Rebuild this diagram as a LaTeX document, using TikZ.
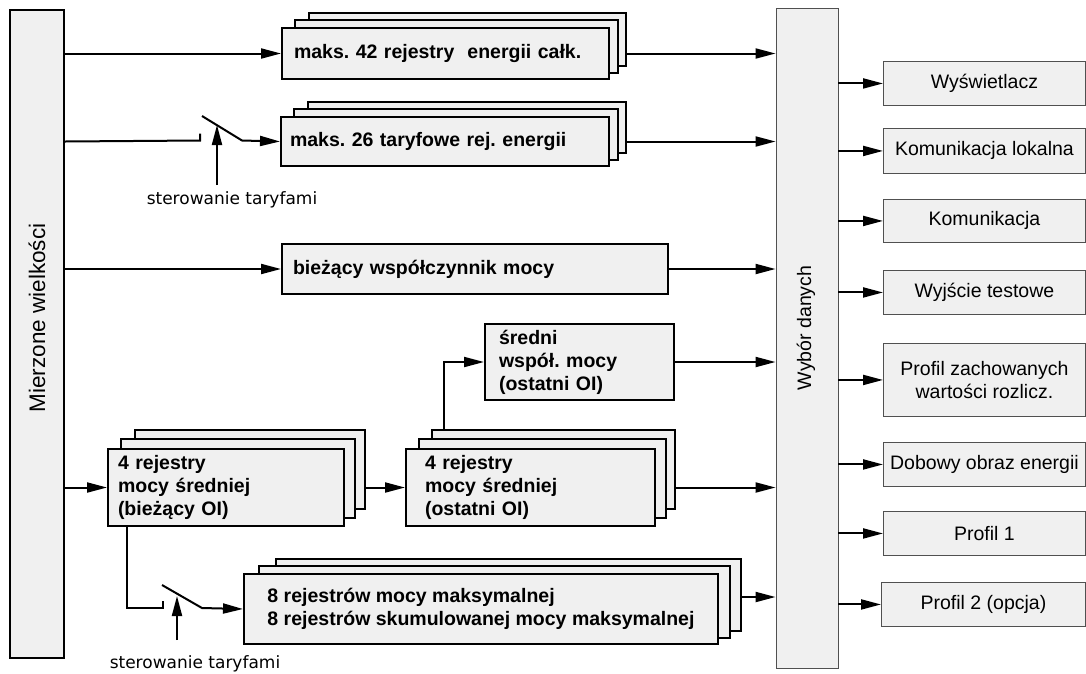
\documentclass[tikz,border=0pt]{standalone}
\usepackage{fontspec}
\setmainfont{Liberation Sans}
\newfontfamily\ctlfont{DejaVu Sans}
\usepackage{tikz}
\usetikzlibrary{arrows.meta,positioning,calc,backgrounds}
\definecolor{boxcolor}{RGB}{240,240,240}
\definecolor{edgecolor}{RGB}{80,80,80}
\frenchspacing

\begin{document}
\begin{tikzpicture}[
    x=1pt, y=-1pt,
    regbox/.style={rectangle, draw, line width=2pt, fill=boxcolor, anchor=north west, align=left, inner xsep=10pt, inner ysep=2pt, font=\fontsize{19.5}{23}\selectfont\bfseries},
    sheet/.style={draw, line width=2pt, fill=boxcolor},
    bar/.style={rectangle, draw, fill=boxcolor},
    bartext/.style={rotate=90, font=\fontsize{19.5}{23}\selectfont},
    outbox/.style={rectangle, draw=edgecolor, line width=0.9pt, fill=boxcolor, anchor=north west, minimum width=202pt, inner xsep=2pt, align=center, font=\fontsize{19.5}{23}\selectfont},
    ctl/.style={font=\ctlfont\fontsize{17}{20}\selectfont},
    wire/.style={line width=2pt},
    arrow/.style={-{Triangle[length=20pt,width=10pt]}, line width=2pt}
]
\useasboundingbox (0,0) rectangle (1086,673);

% Bars
\node[bar, line width=2pt, minimum width=54pt, minimum height=648pt] (meas) at (37,334) {};
\node[bartext, font=\fontsize{22.5}{26}\selectfont] (meastext) at (37,318) {Mierzone wielkości};
\node[bar, draw=edgecolor, line width=0.9pt, minimum width=62pt, minimum height=660pt] (sel) at (807,338) {};
\node[bartext] (seltext) at (806,328) {Wybór danych};

% Registers
\node[regbox, text width=303pt, inner xsep=12pt, minimum height=51pt] (reg1) at (281,27) {maks. 42 rejestry\ \ energii całk.};
\node[regbox, text width=310pt, inner xsep=9pt, minimum height=49pt] (reg2) at (280,116) {maks. 26 taryfowe rej. energii};
\node[regbox, text width=364pt, inner xsep=11pt, minimum height=50pt] (pf) at (281,243) {bieżący współczynnik mocy};
\node[regbox, text width=161pt, inner xsep=14pt, minimum height=76pt] (avgpf) at (484,323) {średni\\współ. mocy\\(ostatni OI)};
\node[regbox, text width=216pt, inner xsep=10pt, minimum height=77pt] (avg1) at (107,448) {4 rejestry\\mocy średniej\\(bieżący OI)};
\node[regbox, text width=211pt, inner xsep=19pt, minimum height=77pt] (avg2) at (405,448) {4 rejestry\\mocy średniej\\(ostatni OI)};
\node[regbox, minimum width=474pt, minimum height=70pt] (maxd) at (243,573) {8 rejestrów mocy maksymalnej\\8 rejestrów skumulowanej mocy maksymalnej};

% Back sheets of the stacks
\begin{scope}[on background layer]
\draw[sheet] ($(reg1.north west)+(28,-14)$) rectangle ($(reg1.south east)+(16,-14)$);
\draw[sheet] ($(reg1.north west)+(14,-7)$) rectangle ($(reg1.south east)+(8,-7)$);
\draw[sheet] ($(reg2.north west)+(28,-14)$) rectangle ($(reg2.south east)+(16,-14)$);
\draw[sheet] ($(reg2.north west)+(14,-7)$) rectangle ($(reg2.south east)+(8,-7)$);
\draw[sheet] ($(avg1.north west)+(28,-18)$) rectangle ($(avg1.south east)+(20,-18)$);
\draw[sheet] ($(avg1.north west)+(14,-9)$) rectangle ($(avg1.south east)+(10,-9)$);
\draw[sheet] ($(avg2.north west)+(27,-18)$) rectangle ($(avg2.south east)+(19,-18)$);
\draw[sheet] ($(avg2.north west)+(14,-9)$) rectangle ($(avg2.south east)+(10,-9)$);
\draw[sheet] ($(maxd.north west)+(33,-14)$) rectangle ($(maxd.south east)+(22,-14)$);
\draw[sheet] ($(maxd.north west)+(16,-7)$) rectangle ($(maxd.south east)+(11,-7)$);
\end{scope}

% Outputs
\node[outbox, minimum height=44pt] (disp) at (883,61) {Wyświetlacz};
\node[outbox, minimum height=45pt] (loc) at (883,128) {Komunikacja lokalna};
\node[outbox, minimum height=43pt] (com) at (883,199) {Komunikacja};
\node[outbox, minimum height=44pt] (test) at (883,270) {Wyjście testowe};
\node[outbox, minimum height=73pt] (prof) at (883,343) {Profil zachowanych\\wartości rozlicz.};
\node[outbox, minimum height=44pt] (daily) at (883,442) {Dobowy obraz energii};
\node[outbox, minimum height=44pt] (pone) at (883,511) {Profil 1};
\node[outbox, minimum height=44pt, minimum width=204pt] (ptwo) at (881,582) {Profil 2 (opcja)};

% Tariff switches
\coordinate (sw1a) at (200,140.5);
\coordinate (sw1b) at (202,116);
\coordinate (sw1c) at (242,140.5);
\coordinate (ctl1) at (217,185);
\node[ctl] (ctl1text) at (232,200) {sterowanie taryfami};
\coordinate (sw2a) at (163,608);
\coordinate (sw2b) at (162,585);
\coordinate (sw2c) at (202,608);
\coordinate (ctl2) at (177,640);
\node[ctl] (ctl2text) at (195,664) {sterowanie taryfami};
\coordinate (maxdout) at ($(maxd.east)+(22,-12)$);

% Arrows - into registers
\draw[arrow] (meas.east |- reg1.west) -- (reg1.west);
\draw[wire] (meas.east |- reg2.west) -- (sw1a) -- ++(0,-7);
\draw[arrow] (sw1b) -- (sw1c) -- (reg2.west);
\draw[arrow] (ctl1) -- ++(0,-60);
\draw[arrow] (meas.east |- pf.west) -- (pf.west);
\draw[arrow] (meas.east |- avg1.west) -- (avg1.west);
\draw[arrow] ($(avg1.east)+(20,0)$) -- (avg2.west);
\draw[arrow] ($(avg2.north west)+(39,-18)$) |- (avgpf.west);
\draw[wire] ($(avg1.south west)+(20,0)$) |- (sw2a) -- ++(0,-7);
\draw[arrow] (sw2b) -- (sw2c) -- (maxd.west);
\draw[arrow] (ctl2) -- ++(0,-44);

% Arrows - into data selection
\draw[arrow] ($(reg1.east)+(16,0)$) -- (sel.west |- reg1.east);
\draw[arrow] ($(reg2.east)+(16,0)$) -- (sel.west |- reg2.east);
\draw[arrow] (pf.east) -- (sel.west |- pf.east);
\draw[arrow] (avgpf.east) -- (sel.west |- avgpf.east);
\draw[arrow] ($(avg2.east)+(19,0)$) -- (sel.west |- avg2.east);
\draw[arrow] (maxdout) -- (sel.west |- maxdout);

% Arrows - outputs
\draw[arrow] (sel.east |- disp.west) -- (disp.west);
\draw[arrow] (sel.east |- loc.west) -- (loc.west);
\draw[arrow] (sel.east |- com.west) -- (com.west);
\draw[arrow] (sel.east |- test.west) -- (test.west);
\draw[arrow] (sel.east |- prof.west) -- (prof.west);
\draw[arrow] (sel.east |- daily.west) -- (daily.west);
\draw[arrow] (sel.east |- pone.west) -- (pone.west);
\draw[arrow] (sel.east |- ptwo.west) -- (ptwo.west);

\end{tikzpicture}
\end{document}
